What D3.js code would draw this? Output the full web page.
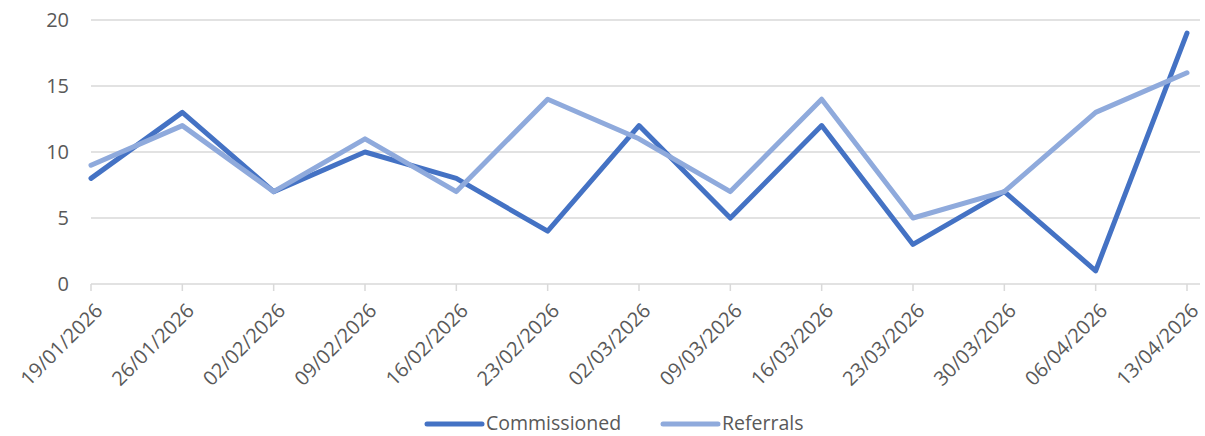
<!DOCTYPE html>
<html>
<head>
<meta charset="utf-8">
<script src="https://d3js.org/d3.v7.min.js"></script>
<style>
  body { margin: 0; background: #fff; }
  text { font-family: "Open Sans", "Noto Sans", sans-serif; fill: #595959; }
</style>
</head>
<body>
<svg width="1205" height="436"></svg>
<script>
var dates = ["19/01/2026", "26/01/2026", "02/02/2026", "09/02/2026", "16/02/2026", "23/02/2026",
  "02/03/2026", "09/03/2026", "16/03/2026", "23/03/2026", "30/03/2026", "06/04/2026", "13/04/2026"];
var commissioned = [8, 13, 7, 10, 8, 4, 12, 5, 12, 3, 7, 1, 19];
var referrals = [9, 12, 7, 11, 7, 14, 11, 7, 14, 5, 7, 13, 16];
var yTicks = [0, 5, 10, 15, 20];

var series = [
  { name: "Commissioned", values: commissioned, color: "#4472C4" },
  { name: "Referrals", values: referrals, color: "#8FAADC" }
];

var svg = d3.select("svg");

var x = d3.scalePoint().domain(dates).range([91, 1187]);
var y = d3.scaleLinear().domain([0, 20]).range([284, 20]);

// gridlines
svg.append("g").selectAll("line")
  .data(yTicks)
  .enter().append("line")
  .attr("x1", 91).attr("x2", 1200)
  .attr("y1", function(d){ return y(d); })
  .attr("y2", function(d){ return y(d); })
  .style("stroke", "#D9D9D9")
  .style("stroke-width", 1.5);

// y labels
svg.append("g").selectAll("text")
  .data(yTicks)
  .enter().append("text")
  .attr("x", 69)
  .attr("y", function(d){ return y(d); })
  .attr("dy", "0.35em")
  .attr("text-anchor", "end")
  .style("font-size", "20px")
  .text(function(d){ return d; });

// x axis ticks
svg.append("g").selectAll("line")
  .data(dates)
  .enter().append("line")
  .attr("x1", function(d){ return x(d); })
  .attr("x2", function(d){ return x(d); })
  .attr("y1", 284).attr("y2", 291)
  .style("stroke", "#D9D9D9")
  .style("stroke-width", 1.5);

// x labels, rotated
svg.append("g").selectAll("text")
  .data(dates)
  .enter().append("text")
  .attr("transform", function(d){ return "translate(" + (x(d) + 8) + ",307) rotate(-45)"; })
  .attr("text-anchor", "end")
  .attr("dy", "0.35em")
  .style("font-size", "20px")
  .text(function(d){ return d; });

// lines
var line = d3.line()
  .x(function(d, i){ return x(dates[i]); })
  .y(function(d){ return y(d); });

svg.append("g").selectAll("path")
  .data(series)
  .enter().append("path")
  .attr("d", function(s){ return line(s.values); })
  .style("fill", "none")
  .style("stroke", function(s){ return s.color; })
  .style("stroke-width", 5)
  .style("stroke-linejoin", "round")
  .style("stroke-linecap", "round");

// legend
var legendX = [427, 663];
var legend = svg.append("g").selectAll("g")
  .data(series)
  .enter().append("g")
  .attr("transform", function(s, i){ return "translate(" + legendX[i] + ",424)"; });
legend.append("line")
  .attr("x1", 0).attr("x2", 55)
  .style("stroke", function(s){ return s.color; })
  .style("stroke-width", 5)
  .style("stroke-linecap", "round");
legend.append("text")
  .attr("x", 59)
  .attr("dy", "0.33em")
  .style("font-size", "19.5px")
  .text(function(s){ return s.name; });
</script>
</body>
</html>
